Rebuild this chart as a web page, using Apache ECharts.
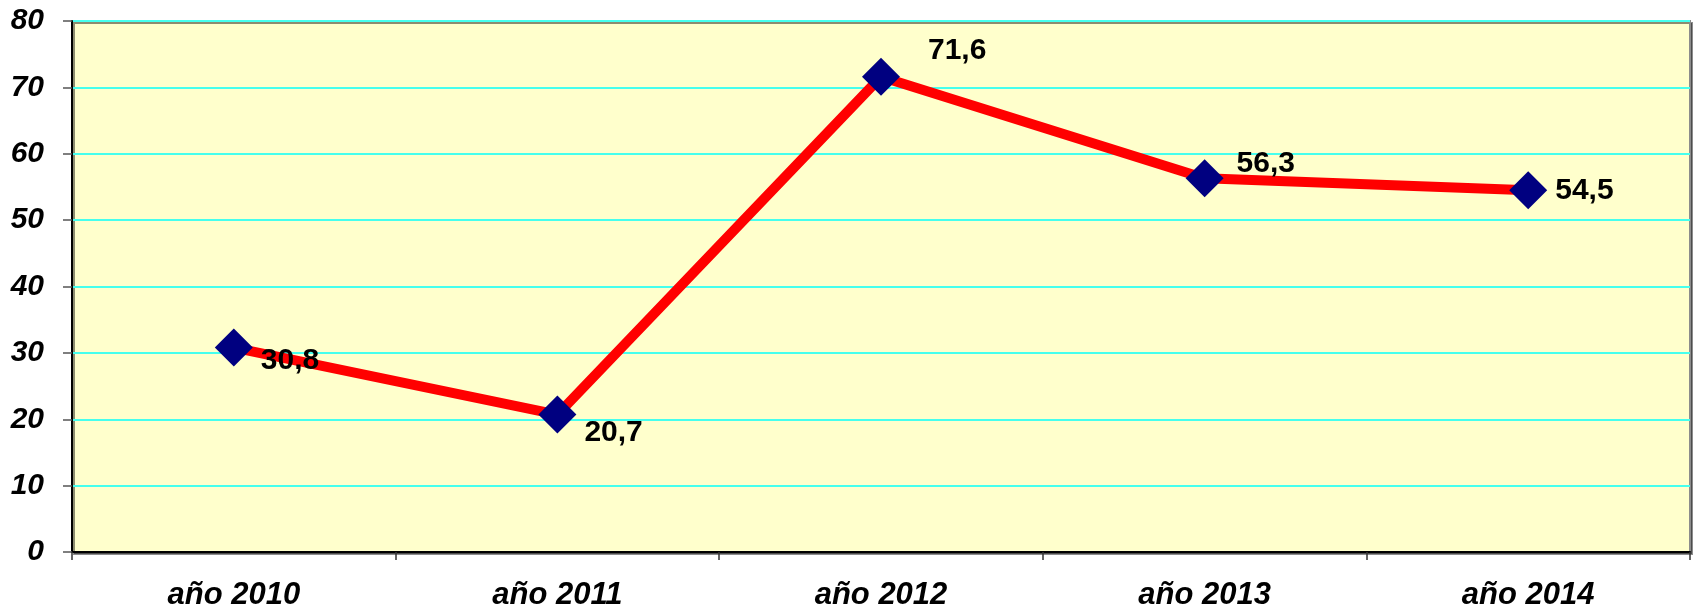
<!DOCTYPE html>
<html>
<head>
<meta charset="utf-8">
<script src="https://cdn.jsdelivr.net/npm/echarts@6/dist/echarts.min.js"></script>
<style>
html,body{margin:0;padding:0;background:#fff;}
#c{width:1696px;height:613px;}
</style>
</head>
<body>
<div id="c"></div>
<script>
const categories = ['año 2010', 'año 2011', 'año 2012', 'año 2013', 'año 2014'];
const values = [30.8, 20.7, 71.6, 56.3, 54.5];
const labelOffsets = [[27, 13], [27, 18], [47, -26], [32, -15], [27, 0]];

const chart = echarts.init(document.getElementById('c'));
chart.setOption({
  animation: false,
  grid: {
    left: 72, right: 6, top: 21, bottom: 61,
    show: true,
    backgroundColor: '#FFFFCC',
    borderColor: '#8c8c8c',
    borderWidth: 2,
    shadowColor: 'rgba(0,0,0,0.45)',
    shadowOffsetX: 2,
    shadowOffsetY: 2,
    shadowBlur: 0
  },
  xAxis: {
    type: 'category',
    data: categories,
    boundaryGap: true,
    axisLine: { lineStyle: { color: '#000', width: 2 } },
    axisTick: { show: true, length: 8, lineStyle: { color: '#333', width: 1.5 } },
    axisLabel: {
      fontFamily: 'Liberation Sans, Arial, sans-serif',
      fontWeight: 'bold', fontStyle: 'italic', fontSize: 31,
      color: '#000', margin: 28
    },
    splitLine: { show: false }
  },
  yAxis: {
    type: 'value',
    min: 0, max: 80, interval: 10,
    axisLine: { show: true, lineStyle: { color: '#000', width: 2 } },
    axisTick: { show: true, length: 9, lineStyle: { color: '#555', width: 1.5 } },
    axisLabel: {
      fontFamily: 'Liberation Sans, Arial, sans-serif',
      fontWeight: 'bold', fontStyle: 'italic', fontSize: 30,
      color: '#000', margin: 28
    },
    splitLine: { show: true, lineStyle: { color: '#45FFEE', width: 2 } }
  },
  series: [{
    type: 'line',
    data: values.map((v, i) => ({
      value: v,
      label: { offset: labelOffsets[i] }
    })),
    lineStyle: { color: '#FF0000', width: 10 },
    symbol: 'diamond',
    symbolSize: 38,
    itemStyle: { color: '#000080' },
    z: 3,
    label: {
      show: true,
      position: 'inside',
      align: 'left',
      verticalAlign: 'middle',
      fontFamily: 'Liberation Sans, Arial, sans-serif',
      fontWeight: 'bold', fontSize: 30, color: '#000',
      formatter: p => String(p.value).replace('.', ',')
    }
  }]
});
</script>
</body>
</html>
